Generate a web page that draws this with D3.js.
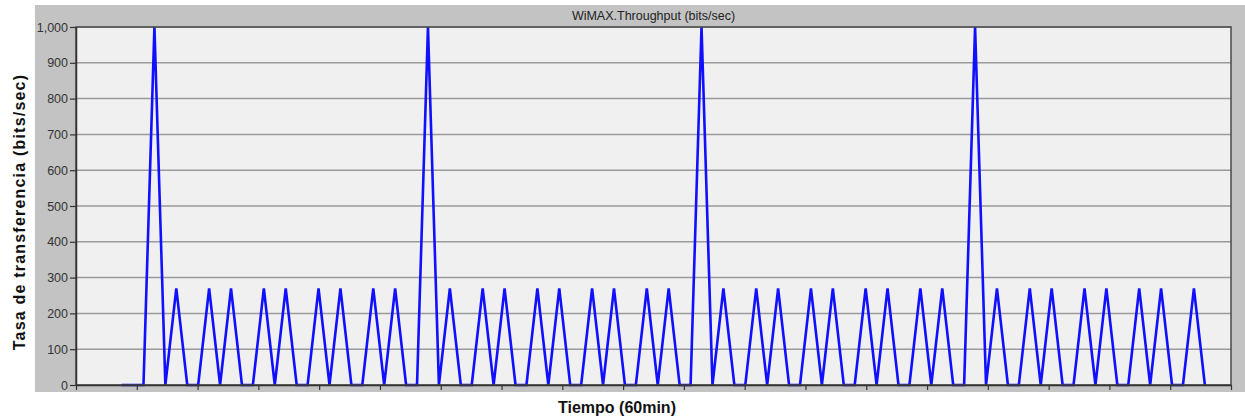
<!DOCTYPE html>
<html>
<head>
<meta charset="utf-8">
<script src="https://cdn.jsdelivr.net/npm/d3@7"></script>
<style>
  body { margin: 0; background: #fff; }
  svg { display: block; font-family: Arial, "Liberation Sans", sans-serif; }
</style>
</head>
<body>
<div id="chart"></div>
<script>
// Define SVG area dimensions
var svgWidth = 1245;
var svgHeight = 420;

// Chart title and axis labels
var chartTitle = "WiMAX.Throughput (bits/sec)";
var xTitle = "Tiempo (60min)";
var yTitle = "Tasa de transferencia (bits/sec)";

// Sample times (seconds)
var sampleTimes = [
  150, 186, 222, 258, 294, 330, 366, 402, 438, 474,
  510, 546, 582, 618, 654, 690, 726, 762, 798, 834,
  870, 906, 942, 978, 1014, 1050, 1086, 1122, 1158, 1194,
  1230, 1266, 1302, 1338, 1374, 1410, 1446, 1482, 1518, 1554,
  1590, 1626, 1662, 1698, 1734, 1770, 1806, 1842, 1878, 1914,
  1950, 1986, 2022, 2058, 2094, 2130, 2166, 2202, 2238, 2274,
  2310, 2346, 2382, 2418, 2454, 2490, 2526, 2562, 2598, 2634,
  2670, 2706, 2742, 2778, 2814, 2850, 2886, 2922, 2958, 2994,
  3030, 3066, 3102, 3138, 3174, 3210, 3246, 3282, 3318, 3354,
  3390, 3426, 3462, 3498, 3534, 3570, 3606, 3642, 3678, 3714
];

// Throughput values (bits/sec)
var throughput = [
  0, 0, 0, 1000, 0, 270, 0, 0, 270, 0,
  270, 0, 0, 270, 0, 270, 0, 0, 270, 0,
  270, 0, 0, 270, 0, 270, 0, 0, 1000, 0,
  270, 0, 0, 270, 0, 270, 0, 0, 270, 0,
  270, 0, 0, 270, 0, 270, 0, 0, 270, 0,
  270, 0, 0, 1000, 0, 270, 0, 0, 270, 0,
  270, 0, 0, 270, 0, 270, 0, 0, 270, 0,
  270, 0, 0, 270, 0, 270, 0, 0, 1000, 0,
  270, 0, 0, 270, 0, 270, 0, 0, 270, 0,
  270, 0, 0, 270, 0, 270, 0, 0, 270, 0
];

// Axis domains and tick values
var xDomain = [0, 3800];
var xTicks = d3.range(0, 3801, 200);
var yDomain = [0, 1000];
var yTicks = [0, 100, 200, 300, 400, 500, 600, 700, 800, 900, 1000];

// Panel and plot area
var panel = { left: 35, top: 5, right: 1245, bottom: 392 };
var margin = { top: 27, right: 14, bottom: 35, left: 76 };
var chartWidth = svgWidth - margin.left - margin.right;
var chartHeight = svgHeight - margin.top - margin.bottom;

var svg = d3.select("#chart")
  .append("svg")
  .attr("width", svgWidth)
  .attr("height", svgHeight);

// Gray panel behind the chart
svg.append("rect")
  .attr("x", panel.left)
  .attr("y", panel.top)
  .attr("width", panel.right - panel.left)
  .attr("height", panel.bottom - panel.top)
  .attr("fill", "#c3c3c3");

var chartGroup = svg.append("g")
  .attr("transform", `translate(${margin.left}, ${margin.top})`);

// Plot background
chartGroup.append("rect")
  .attr("width", chartWidth)
  .attr("height", chartHeight)
  .attr("fill", "#f0f0f0");

var xLinearScale = d3.scaleLinear().domain(xDomain).range([0, chartWidth]);
var yLinearScale = d3.scaleLinear().domain(yDomain).range([chartHeight, 0]);

// Horizontal gridlines
chartGroup.append("g")
  .selectAll("line")
  .data(yTicks)
  .enter()
  .append("line")
  .attr("x1", 0)
  .attr("x2", chartWidth)
  .attr("y1", d => yLinearScale(d))
  .attr("y2", d => yLinearScale(d))
  .attr("stroke", "#9a9a9a")
  .attr("stroke-width", 1.5);

// Throughput line
var line = d3.line()
  .x((d, i) => xLinearScale(sampleTimes[i]))
  .y(d => yLinearScale(d));

chartGroup.append("path")
  .datum(throughput)
  .attr("d", line)
  .attr("fill", "none")
  .attr("stroke", "#1010ff")
  .attr("stroke-width", 2.6)
  .attr("stroke-linejoin", "miter");

// Frame
chartGroup.append("rect")
  .attr("width", chartWidth)
  .attr("height", chartHeight)
  .attr("fill", "none")
  .attr("stroke", "#4a4a4a")
  .attr("stroke-width", 1.5);

// Axes
var bottomAxis = d3.axisBottom(xLinearScale)
  .tickValues(xTicks)
  .tickFormat("")
  .tickSize(5)
  .tickSizeOuter(0);
var leftAxis = d3.axisLeft(yLinearScale)
  .tickValues(yTicks)
  .tickFormat(d3.format(","))
  .tickSize(6)
  .tickPadding(2)
  .tickSizeOuter(0);

var xAxis = chartGroup.append("g")
  .attr("transform", `translate(0, ${chartHeight})`)
  .call(bottomAxis);

var yAxis = chartGroup.append("g")
  .call(leftAxis);

[xAxis, yAxis].forEach(function(ax) {
  ax.select(".domain").attr("stroke", "#333").attr("stroke-width", 1.5);
  ax.selectAll(".tick line").attr("stroke", "#333").attr("stroke-width", 1.2);
  ax.selectAll("text")
    .attr("fill", "#333")
    .style("font-size", "12.5px")
    .style("font-family", "Arial, 'Liberation Sans', sans-serif");
});

// Chart title
svg.append("text")
  .attr("x", margin.left + chartWidth / 2)
  .attr("y", 20)
  .attr("text-anchor", "middle")
  .attr("fill", "#222")
  .style("font-size", "12.5px")
  .text(chartTitle);

// Axis titles
svg.append("text")
  .attr("x", 617)
  .attr("y", 413)
  .attr("text-anchor", "middle")
  .attr("fill", "#111")
  .style("font-size", "16px")
  .style("font-weight", "bold")
  .text(xTitle);

svg.append("text")
  .attr("transform", "translate(25, 212) rotate(-90)")
  .attr("text-anchor", "middle")
  .attr("fill", "#111")
  .style("font-size", "16px")
  .style("font-weight", "bold")
  .style("letter-spacing", "1.2px")
  .text(yTitle);
</script>
</body>
</html>
